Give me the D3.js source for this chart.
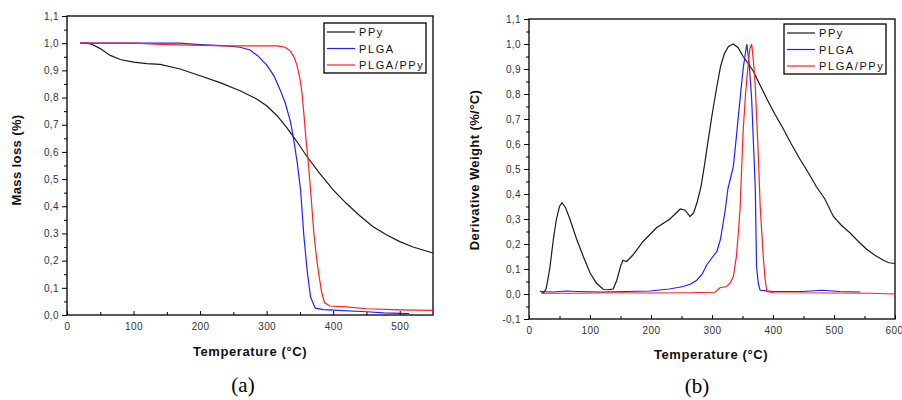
<!DOCTYPE html>
<html>
<head>
<meta charset="utf-8">
<script src="https://cdn.jsdelivr.net/npm/d3@7"></script>
<style>
  body { margin: 0; background: #fff; }
  text { font-family: "Liberation Sans", Arial, sans-serif; }
</style>
</head>
<body>
<svg id="chart" width="902" height="400"></svg>
<script>
// (a) TGA mass loss curves, [temperature, value]
const tgaPPy = [[20,1.0],[30,1.0],[38,0.995],[50,0.98],[65,0.955],[80,0.94],[100,0.93],[120,0.925],[140,0.922],[170,0.905],[200,0.88],[230,0.855],[260,0.825],[285,0.795],[300,0.77],[315,0.735],[330,0.69],[345,0.64],[360,0.585],[380,0.52],[400,0.46],[420,0.41],[440,0.365],[460,0.325],[480,0.295],[500,0.27],[520,0.25],[550,0.228]];
const tgaPLGA = [[20,1.0],[100,1.0],[150,1.0],[170,1.0],[200,0.995],[240,0.99],[260,0.985],[275,0.975],[286,0.955],[300,0.92],[311,0.88],[320,0.83],[328,0.78],[336,0.71],[341,0.64],[346,0.56],[351,0.46],[356,0.29],[361,0.16],[366,0.066],[373,0.025],[385,0.02],[400,0.018],[450,0.012],[476,0.008],[514,0.005]];
const tgaBlend = [[20,1.0],[100,1.0],[150,0.995],[240,0.99],[300,0.99],[316,0.99],[328,0.985],[336,0.97],[342,0.945],[346,0.915],[350,0.87],[353,0.82],[356,0.74],[359,0.65],[363,0.55],[366,0.46],[371,0.3],[375,0.21],[379,0.14],[383,0.08],[387,0.045],[395,0.033],[420,0.03],[450,0.023],[500,0.019],[550,0.017]];

// (b) DTG derivative weight curves
const dtgPPy = [[18,0.012],[24,0.005],[28,0.02],[34,0.1],[40,0.22],[45,0.3],[50,0.35],[54,0.365],[60,0.345],[67,0.3],[78,0.22],[89,0.15],[100,0.085],[110,0.045],[122,0.018],[130,0.017],[138,0.02],[144,0.055],[150,0.11],[154,0.135],[160,0.13],[170,0.155],[187,0.21],[209,0.265],[231,0.3],[248,0.34],[256,0.335],[264,0.31],[270,0.325],[276,0.37],[282,0.43],[288,0.52],[294,0.62],[301,0.73],[308,0.83],[314,0.91],[320,0.96],[327,0.99],[335,1.0],[343,0.985],[351,0.95],[360,0.92],[368,0.89],[380,0.83],[390,0.78],[403,0.72],[417,0.66],[430,0.6],[444,0.54],[458,0.485],[471,0.43],[485,0.38],[499,0.31],[512,0.275],[526,0.245],[540,0.21],[553,0.18],[567,0.155],[581,0.135],[590,0.125],[600,0.122]];
const dtgPLGA = [[20,0.01],[40,0.008],[60,0.012],[80,0.01],[120,0.008],[160,0.01],[198,0.012],[230,0.02],[253,0.03],[265,0.04],[275,0.055],[284,0.08],[291,0.115],[300,0.145],[308,0.17],[314,0.22],[318,0.28],[322,0.34],[326,0.42],[331,0.47],[335,0.51],[340,0.63],[346,0.78],[351,0.9],[357,1.0],[361,0.92],[365,0.78],[368,0.6],[371,0.42],[373,0.11],[376,0.04],[379,0.015],[400,0.01],[450,0.01],[480,0.015],[510,0.01],[543,0.008]];
const dtgBlend = [[20,0.003],[80,0.003],[140,0.005],[200,0.004],[260,0.005],[305,0.007],[313,0.025],[324,0.03],[330,0.045],[335,0.07],[340,0.15],[343,0.24],[346,0.34],[351,0.65],[355,0.8],[359,0.91],[362,0.98],[365,1.0],[368,0.93],[371,0.83],[376,0.55],[379,0.35],[384,0.15],[387,0.06],[390,0.01],[400,0.005],[500,0.004],[560,0.003],[600,0.0]];

const seriesNames = ["PPy", "PLGA", "PLGA/PPy"];
const seriesColors = ["#1a1a1a", "#2020ff", "#ff2020"];

const svg = d3.select("#chart");
svg.append("rect").attr("width", 902).attr("height", 400).attr("fill", "#fff");

const comma = (v) => d3.format(".1f")(v).replace(".", ",").replace("−", "-");

function drawPanel(cfg) {
  const x = d3.scaleLinear().domain(cfg.xDomain).range([cfg.left, cfg.right]);
  const y = d3.scaleLinear().domain(cfg.yDomain).range([cfg.bottom, cfg.top]);
  const g = svg.append("g");

  // frame
  g.append("rect")
    .attr("x", cfg.left).attr("y", cfg.top)
    .attr("width", cfg.right - cfg.left).attr("height", cfg.bottom - cfg.top)
    .attr("fill", "none").attr("stroke", "#000").attr("stroke-width", 1.3);

  // y axis: major outward ticks, minor in between
  const yMajor = d3.range(cfg.yDomain[0], cfg.yDomain[1] + 0.001, 0.1).map((v) => +v.toFixed(2));
  const yAxis = g.append("g").attr("transform", `translate(${cfg.left},0)`)
    .call(d3.axisLeft(y).tickValues(yMajor).tickFormat(comma).tickSize(5).tickPadding(3));
  yAxis.select(".domain").remove();
  yAxis.selectAll("text").attr("font-size", 10).attr("letter-spacing", 0.4).attr("fill", "#333");
  g.append("g").attr("transform", `translate(${cfg.left},0)`)
    .call(d3.axisLeft(y).tickValues(yMajor.slice(0, -1).map((v) => v + 0.05)).tickFormat("").tickSize(3))
    .select(".domain").remove();

  // x axis
  const xMajor = d3.range(cfg.xDomain[0], cfg.xDomain[1] + 1, 100);
  const xAxis = g.append("g").attr("transform", `translate(0,${cfg.bottom})`)
    .call(d3.axisBottom(x).tickValues(xMajor).tickSizeInner(-4).tickSizeOuter(0).tickPadding(8));
  xAxis.select(".domain").remove();
  xAxis.selectAll("text").attr("font-size", 10).attr("letter-spacing", 0.4).attr("fill", "#333");
  // keep a label sitting on the page edge inside the picture
  xAxis.selectAll(".tick").filter((d) => x(d) > 890).select("text")
    .attr("text-anchor", "end").attr("dx", "0.8em");
  g.append("g").attr("transform", `translate(0,${cfg.bottom})`)
    .call(d3.axisBottom(x).tickValues(d3.range(50, cfg.xDomain[1], 100)).tickFormat("").tickSizeInner(-3).tickSizeOuter(0))
    .select(".domain").remove();

  // curves
  const line = d3.line().x((d) => x(d[0])).y((d) => y(d[1]));
  cfg.series.forEach((s, i) => {
    g.append("path").datum(s).attr("d", line)
      .attr("fill", "none").attr("stroke", seriesColors[i]).attr("stroke-width", 1.2);
  });

  // legend
  const lg = g.append("g").attr("transform", `translate(${cfg.legend[0]},${cfg.legend[1]})`);
  lg.append("rect").attr("width", 102).attr("height", 50)
    .attr("fill", "#fff").attr("stroke", "#000").attr("stroke-width", 1.3);
  seriesNames.forEach((name, i) => {
    const yy = 9 + i * 16.5;
    lg.append("line").attr("x1", 3).attr("x2", 31).attr("y1", yy).attr("y2", yy)
      .attr("stroke", seriesColors[i]).attr("stroke-width", 1.2);
    lg.append("text").attr("x", 35).attr("y", yy + 4).text(name)
      .attr("font-size", 11).attr("letter-spacing", 1.6).attr("fill", "#111");
  });

  // axis titles
  g.append("text").attr("x", cfg.xTitle[0]).attr("y", cfg.xTitle[1])
    .attr("text-anchor", "middle").attr("font-size", 13).attr("font-weight", "bold")
    .attr("letter-spacing", 0.6).attr("fill", "#111").text("Temperature (°C)");
  g.append("text")
    .attr("transform", `translate(${cfg.yTitle[0]},${cfg.yTitle[1]}) rotate(-90)`)
    .attr("text-anchor", "middle").attr("font-size", 13).attr("font-weight", "bold")
    .attr("letter-spacing", 0.4).attr("fill", "#111").text(cfg.yLabel);

  // panel letter
  g.append("text").attr("x", cfg.tag[0]).attr("y", cfg.tag[1])
    .attr("text-anchor", "middle").attr("font-size", 21)
    .style("font-family", "'Liberation Serif', 'DejaVu Serif', serif")
    .text(cfg.tagText);
}

drawPanel({
  left: 67, right: 433, top: 16, bottom: 315,
  xDomain: [0, 550], yDomain: [0, 1.1],
  series: [tgaPPy, tgaPLGA, tgaBlend],
  legend: [324, 23],
  xTitle: [250, 356], yTitle: [21, 160],
  yLabel: "Mass loss (%)",
  tag: [243, 392], tagText: "(a)"
});

drawPanel({
  left: 529, right: 895, top: 19, bottom: 319,
  xDomain: [0, 600], yDomain: [-0.1, 1.1],
  series: [dtgPPy, dtgPLGA, dtgBlend],
  legend: [784, 24],
  xTitle: [711, 359], yTitle: [479, 170],
  yLabel: "Derivative Weight (%/°C)",
  tag: [697, 393], tagText: "(b)"
});
</script>
</body>
</html>
